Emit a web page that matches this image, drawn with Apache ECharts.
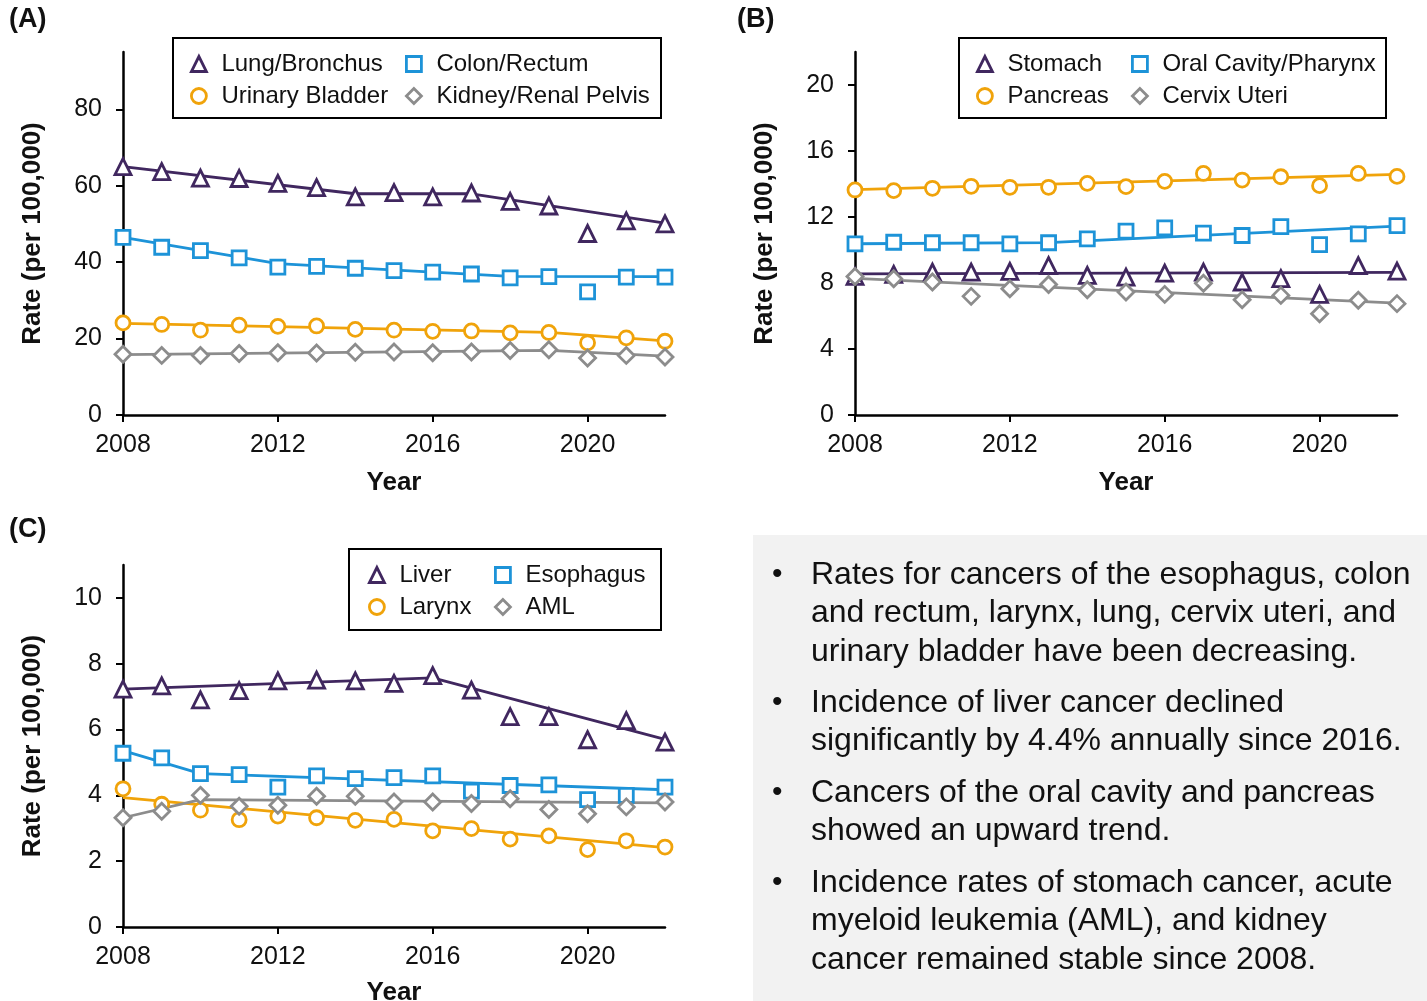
<!DOCTYPE html>
<html>
<head>
<meta charset="utf-8">
<script src="https://cdn.jsdelivr.net/npm/echarts@6/dist/echarts.min.js"></script>
<style>
html,body{margin:0;padding:0;background:#fff;}
#chart{width:1427px;height:1001px;}
</style>
</head>
<body>
<div id="chart"></div>
<script>
// ---------- data ----------
const years = [2008,2009,2010,2011,2012,2013,2014,2015,2016,2017,2018,2019,2020,2021,2022];
const xTickValues = [2008,2012,2016,2020];

// Panel A
const lungBronchus   = [65.0,63.7,62.0,61.9,60.6,59.5,57.1,58.2,57.1,58.1,55.9,54.7,47.5,50.8,50.0];
const colonRectum    = [46.5,43.9,43.0,41.1,38.7,38.9,38.4,37.8,37.4,36.9,35.9,36.2,32.2,36.1,36.1];
const urinaryBladder = [24.1,23.7,22.2,23.5,23.2,23.3,22.4,22.2,21.9,22.0,21.5,21.6,18.9,20.2,19.3];
const kidneyRenal    = [15.9,15.6,15.6,16.1,16.3,16.2,16.4,16.5,16.3,16.5,16.9,17.1,14.9,15.6,15.2];
const lungTrend    = [[2008,65.0],[2014,57.9],[2017,57.9],[2022,50.2]];
const colonTrend   = [[2008,46.5],[2012,39.6],[2018,36.3],[2022,36.2]];
const urinaryTrend = [[2008,24.0],[2019,21.6],[2022,19.4]];
const kidneyTrend  = [[2008,15.8],[2019,16.9],[2022,15.4]];
const yTicksA = [0,20,40,60,80];

// Panel B
const stomach  = [8.40,8.52,8.66,8.66,8.70,9.06,8.46,8.36,8.60,8.66,8.06,8.26,7.31,9.06,8.72];
const oralCavity = [10.37,10.47,10.44,10.44,10.37,10.44,10.68,11.14,11.34,11.02,10.88,11.42,10.33,10.98,11.48];
const pancreas = [13.64,13.60,13.74,13.86,13.80,13.80,14.04,13.84,14.16,14.64,14.24,14.44,13.90,14.64,14.46];
const cervixUteri = [8.40,8.26,8.06,7.19,7.65,7.91,7.59,7.45,7.31,7.99,6.99,7.25,6.14,6.95,6.75];
const stomachTrend  = [[2008,8.55],[2022,8.65]];
const oralTrend     = [[2008,10.38],[2013,10.45],[2022,11.45]];
const pancreasTrend = [[2008,13.66],[2022,14.58]];
const cervixTrend   = [[2008,8.28],[2022,6.78]];
const yTicksB = [0,4,8,12,16,20];

// Panel C
const liver     = [7.23,7.33,6.90,7.18,7.48,7.50,7.48,7.40,7.64,7.20,6.39,6.39,5.69,6.27,5.62];
const esophagus = [5.28,5.14,4.66,4.63,4.25,4.59,4.51,4.54,4.59,4.13,4.30,4.32,3.87,4.00,4.25];
const larynx    = [4.20,3.73,3.55,3.26,3.37,3.32,3.24,3.27,2.92,2.99,2.67,2.77,2.35,2.62,2.43];
const aml       = [3.32,3.52,4.00,3.67,3.70,3.97,3.97,3.80,3.80,3.75,3.90,3.57,3.44,3.65,3.80];
const liverTrend     = [[2008,7.23],[2016,7.57],[2022,5.70]];
const esophagusTrend = [[2008,5.36],[2010,4.66],[2022,4.17]];
const larynxTrend    = [[2008,3.93],[2022,2.41]];
const amlTrend       = [[2008,3.32],[2010,3.87],[2022,3.77]];
const yTicksC = [0,2,4,6,8,10];

const bulletTexts = [
  "Rates for cancers of the esophagus, colon\nand rectum, larynx, lung, cervix uteri, and\nurinary bladder have been decreasing.",
  "Incidence of liver cancer declined\nsignificantly by 4.4% annually since 2016.",
  "Cancers of the oral cavity and pancreas\nshowed an upward trend.",
  "Incidence rates of stomach cancer, acute\nmyeloid leukemia (AML), and kidney\ncancer remained stable since 2008."
];

// ---------- styles ----------
const PURPLE = '#40275f', BLUE = '#1d93d8', GOLD = '#f0a30a', GRAY = '#8c8c8c';
const FONT = "'Liberation Sans', Arial, sans-serif";

function pairs(arr){ return years.map((y,i)=>[y, arr[i]]); }

function scatter(name, arr, idx, color, symbol, size){
  return {
    type:'scatter', name, xAxisIndex:idx, yAxisIndex:idx,
    data: pairs(arr), symbol, symbolSize:size, symbolKeepAspect:true, z:5,
    itemStyle:{color:'#ffffff', borderColor:color, borderWidth:2.8, opacity:1},
    emphasis:{disabled:true}, clip:false
  };
}
function trend(name, data, idx, color){
  return {
    type:'line', name: name + ' trend', xAxisIndex:idx, yAxisIndex:idx,
    data, symbol:'none', z:3, silent:true,
    lineStyle:{color, width:2.8}, emphasis:{disabled:true}
  };
}

function xAxis(idx, gap){
  return {
    gridIndex:idx, type:'value', min:2008, max:2022,
    axisLine:{show:true, onZero:false, lineStyle:{color:'#000', width:2.5}},
    axisTick:{show:true, customValues:xTickValues, length:7, lineStyle:{color:'#000', width:2}},
    axisLabel:{customValues:xTickValues, fontSize:25, color:'#111', margin:18, fontFamily:FONT,
               formatter:v => String(v)},
    splitLine:{show:false},
    name:'Year', nameLocation:'middle', nameGap:gap,
    nameTextStyle:{fontSize:26, fontWeight:'bold', color:'#111', fontFamily:FONT}
  };
}
function yAxis(idx, max, ticks){
  return {
    gridIndex:idx, type:'value', min:0, max,
    axisLine:{show:true, lineStyle:{color:'#000', width:2.5}},
    axisTick:{show:true, customValues:ticks, length:7, lineStyle:{color:'#000', width:2}},
    axisLabel:{customValues:ticks, fontSize:25, color:'#111', margin:21, fontFamily:FONT,
               formatter:v => String(v)},
    splitLine:{show:false},
    name:'Rate (per 100,000)', nameLocation:'middle', nameGap:77,
    nameTextStyle:{fontSize:26, fontWeight:'bold', color:'#111', fontFamily:FONT}
  };
}
function legend(left, top, names){
  return {
    left, top, orient:'vertical', padding:0, itemWidth:15, itemHeight:15, itemGap:8,
    selectedMode:false, symbolKeepAspect:true,
    itemStyle:{borderWidth:2.8},
    textStyle:{fontSize:24, lineHeight:24, color:'#111', fontFamily:FONT, padding:[0,0,0,10]},
    data:names
  };
}

const graphics = [
  {type:'rect', z:0, shape:{x:753, y:535, width:674, height:466}, style:{fill:'#f2f2f2'}},
  {type:'rect', z:1, shape:{x:173, y:38, width:488, height:80}, style:{fill:'none', stroke:'#000', lineWidth:2}},
  {type:'rect', z:1, shape:{x:959, y:38, width:427, height:80}, style:{fill:'none', stroke:'#000', lineWidth:2}},
  {type:'rect', z:1, shape:{x:349, y:549, width:312, height:81}, style:{fill:'none', stroke:'#000', lineWidth:2}},
  {type:'text', x:9, y:20, style:{text:'(A)', font:"bold 27px "+FONT, fill:'#111', textVerticalAlign:'middle'}},
  {type:'text', x:737, y:20, style:{text:'(B)', font:"bold 27px "+FONT, fill:'#111', textVerticalAlign:'middle'}},
  {type:'text', x:9, y:530, style:{text:'(C)', font:"bold 27px "+FONT, fill:'#111', textVerticalAlign:'middle'}}
];
const paraFirstLineCenters = [575, 703, 793, 883];
bulletTexts.forEach((t,i)=>{
  graphics.push({type:'text', z:2, x:772, y:paraFirstLineCenters[i],
    style:{text:'•', font:"30px "+FONT, fill:'#111', textVerticalAlign:'middle'}});
  graphics.push({type:'text', z:2, x:811, y:paraFirstLineCenters[i]-19.25,
    style:{text:t, font:"32px "+FONT, fill:'#111', lineHeight:38.5, textVerticalAlign:'top'}});
});

const option = {
  animation:false,
  backgroundColor:'#ffffff',
  textStyle:{fontFamily:FONT},
  grid:[
    {left:123, top:52, width:542, height:363, outerBoundsMode:'none', containLabel:false},
    {left:855, top:52, width:542, height:363, outerBoundsMode:'none', containLabel:false},
    {left:123, top:565, width:542, height:362, outerBoundsMode:'none', containLabel:false}
  ],
  xAxis:[xAxis(0,55), xAxis(1,55), xAxis(2,53)],
  yAxis:[yAxis(0,95,yTicksA), yAxis(1,22,yTicksB), yAxis(2,11,yTicksC)],
  legend:[
    legend(190,52,['Lung/Bronchus','Urinary Bladder']),
    legend(405,52,['Colon/Rectum','Kidney/Renal Pelvis']),
    legend(976,52,['Stomach','Pancreas']),
    legend(1131,52,['Oral Cavity/Pharynx','Cervix Uteri']),
    legend(368,563,['Liver','Larynx']),
    legend(494,563,['Esophagus','AML'])
  ],
  graphic:graphics,
  series:[
    trend('Lung/Bronchus', lungTrend, 0, PURPLE),
    trend('Colon/Rectum', colonTrend, 0, BLUE),
    trend('Urinary Bladder', urinaryTrend, 0, GOLD),
    trend('Kidney/Renal Pelvis', kidneyTrend, 0, GRAY),
    scatter('Lung/Bronchus', lungBronchus, 0, PURPLE, 'triangle', 16),
    scatter('Colon/Rectum', colonRectum, 0, BLUE, 'rect', 14),
    scatter('Urinary Bladder', urinaryBladder, 0, GOLD, 'circle', 14),
    scatter('Kidney/Renal Pelvis', kidneyRenal, 0, GRAY, 'diamond', 16),

    trend('Stomach', stomachTrend, 1, PURPLE),
    trend('Oral Cavity/Pharynx', oralTrend, 1, BLUE),
    trend('Pancreas', pancreasTrend, 1, GOLD),
    trend('Cervix Uteri', cervixTrend, 1, GRAY),
    scatter('Stomach', stomach, 1, PURPLE, 'triangle', 16),
    scatter('Oral Cavity/Pharynx', oralCavity, 1, BLUE, 'rect', 14),
    scatter('Pancreas', pancreas, 1, GOLD, 'circle', 14),
    scatter('Cervix Uteri', cervixUteri, 1, GRAY, 'diamond', 16),

    trend('Liver', liverTrend, 2, PURPLE),
    trend('Esophagus', esophagusTrend, 2, BLUE),
    trend('Larynx', larynxTrend, 2, GOLD),
    trend('AML', amlTrend, 2, GRAY),
    scatter('Liver', liver, 2, PURPLE, 'triangle', 16),
    scatter('Esophagus', esophagus, 2, BLUE, 'rect', 14),
    scatter('Larynx', larynx, 2, GOLD, 'circle', 14),
    scatter('AML', aml, 2, GRAY, 'diamond', 16)
  ]
};

const chart = echarts.init(document.getElementById('chart'), null, {renderer:'canvas'});
chart.setOption(option);
</script>
</body>
</html>
